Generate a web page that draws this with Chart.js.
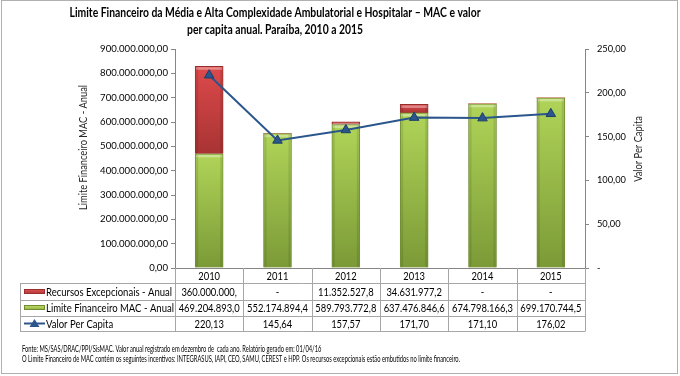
<!DOCTYPE html>
<html><head><meta charset="utf-8">
<script src="https://cdn.jsdelivr.net/npm/chart.js@4"></script>
<style>html,body{margin:0;padding:0;background:#fff}#wrap{width:680px;height:376px;position:relative}</style>
</head><body><div id="wrap"><canvas id="c" width="680" height="376"></canvas></div>
<script>
const categories = ['2010','2011','2012','2013','2014','2015'];
const recursosExcepcionais = [360000000, 0, 11352527.8, 34631977.2, 0, 0];
const limiteFinanceiro = [469204893.0, 552174894.4, 589793772.8, 637476846.6, 674798166.3, 699170744.5];
const valorPerCapita = [220.13, 145.64, 157.57, 171.70, 171.10, 176.02];
const recursosLabels = ['360.000.000,', '-', '11.352.527,8', '34.631.977,2', '-', '-'];
const limiteLabels = ['469.204.893,0','552.174.894,4','589.793.772,8','637.476.846,6','674.798.166,3','699.170.744,5'];
const perCapitaLabels = ['220,13','145,64','157,57','171,70','171,10','176,02'];
const seriesNames = ['Recursos Excepcionais - Anual','Limite Financeiro MAC - Anual','Valor Per Capita'];
const titleLines = ['Limite Financeiro da Média e Alta Complexidade Ambulatorial e Hospitalar – MAC e valor','per capita anual. Paraíba, 2010 a 2015'];
const footnotes = ['Fonte: MS/SAS/DRAC/PPI/SisMAC. Valor anual registrado em dezembro de  cada ano. Relatório gerado em: 01/04/16',
  'O Limite Financeiro de MAC contém os seguintes incentivos: INTEGRASUS, IAPI, CEO, SAMU, CEREST e HPP. Os recursos excepcionais estão embutidos no limite financeiro.'];
const yAxisTitle = 'Limite Financeiro MAC - Anual';
const y1AxisTitle = 'Valor Per Capita';

const FAM = 'Lato, "Open Sans", sans-serif';
const mctx = document.createElement('canvas').getContext('2d');
function fit(text, target, weight){ mctx.font = weight + ' 20px ' + FAM; return 20 * target / mctx.measureText(text).width; }
function squeeze(text, size, weight, target){ mctx.font = weight + ' ' + size + 'px ' + FAM; return Math.min(1, target / mctx.measureText(text).width); }
function fmtBR(v, dec){ const s = Number(v).toFixed(dec); let [i,d] = s.split('.'); i = i.replace(/\B(?=(\d{3})+(?!\d))/g,'.'); return d ? i + ',' + d : i; }

const TITLE = { size: 13.5, w: 'bold' };  TITLE.sx = squeeze(titleLines[0], TITLE.size, TITLE.w, 411);
const TAB = { size: 11, w: 'normal' };    TAB.sx = squeeze(seriesNames[0], TAB.size, TAB.w, 126);
const VAL = { size: 11, w: 'normal' };    VAL.sx = squeeze(limiteLabels[0], VAL.size, VAL.w, 61);
const FOOT = { size: 8.5, w: 'normal' };  FOOT.sx = squeeze(footnotes[1], FOOT.size, FOOT.w, 438);
const AXT = { size: 11, w: 'normal' };    AXT.sx = squeeze(yAxisTitle, AXT.size, AXT.w, 125);
const tickSize = fit('900.000.000,00', 68, 'normal');
const tickSize1 = fit('250,00', 29, 'normal');

function drawText(c, text, x, y, st, align){
  c.save();
  c.font = st.w + ' ' + st.size + 'px ' + FAM;
  c.translate(x, y); c.scale(st.sx, 1);
  c.textAlign = align; c.textBaseline = 'middle';
  c.fillText(text, 0, 0);
  c.restore();
}

function segBounds(di, i){
  if (di === 1) return [0, limiteFinanceiro[i]];
  return [limiteFinanceiro[i], limiteFinanceiro[i] + recursosExcepcionais[i]];
}
function barFill(di, top, bottom){
  return function(ctx){
    const ch = ctx.chart; const ys = ch.scales && ch.scales.y;
    if (!ys || ctx.dataIndex === undefined) return top;
    const [b, t] = segBounds(di, ctx.dataIndex);
    const y0 = ys.getPixelForValue(t), y1 = ys.getPixelForValue(b);
    if (!isFinite(y0) || !isFinite(y1) || y1 - y0 < 1) return top;
    const g = ch.ctx.createLinearGradient(0, y0, 0, y1);
    g.addColorStop(0, top); g.addColorStop(1, bottom);
    return g;
  };
}

const custom = {
  id: 'custom',
  afterDatasetDraw(chart, args){
    if (args.index === 0) return;
    const c = chart.ctx; const di = args.index;
    const vals = chart.data.datasets[di].data;
    chart.getDatasetMeta(di).data.forEach((b, i) => {
      if (!vals[i]) return;
      const p = b.getProps(['x','y','base','width'], true);
      const l = p.x - p.width/2, h = p.base - p.y;
      c.save();
      c.fillStyle = 'rgba(255,255,255,0.35)';
      c.fillRect(l+1, p.y+1, p.width-2, Math.max(0, Math.min(2.5, h-1)));
      c.fillStyle = 'rgba(0,0,0,0.10)';
      if (h > 3) { c.fillRect(l+1, p.y+1, 2, h-2); c.fillRect(l+p.width-3, p.y+1, 2, h-2); }
      c.restore();
    });
  },
  afterDraw(chart){
    const c = chart.ctx; const xs = chart.scales.x; const a = chart.chartArea;
    c.save();
    c.fillStyle = '#000';
    drawText(c, titleLines[0], 275, 13, TITLE, 'center');
    drawText(c, titleLines[1], 275, 30, TITLE, 'center');
    // axis titles
    c.fillStyle = '#262626';
    c.save(); c.translate(83, 147.5); c.rotate(-Math.PI/2); drawText(c, yAxisTitle, 0, 0, AXT, 'center'); c.restore();
    c.save(); c.translate(638, 149); c.rotate(-Math.PI/2); drawText(c, y1AxisTitle, 0, 0, AXT, 'center'); c.restore();
    // table
    const n = categories.length, cw = (a.right - a.left) / n;
    const rows = [a.bottom, 283, 300, 316, 331];
    const tl = 20;
    c.strokeStyle = '#a6a6a6'; c.lineWidth = 1;
    c.beginPath();
    for (let i = 0; i <= n; i++) { const x = Math.round(a.left + i*cw) + 0.5; c.moveTo(x, a.bottom); c.lineTo(x, rows[4]); }
    for (let r = 1; r < rows.length; r++) { c.moveTo(tl, rows[r] + 0.5); c.lineTo(a.right + 0.5, rows[r] + 0.5); }
    c.moveTo(tl + 0.5, rows[1]); c.lineTo(tl + 0.5, rows[4]);
    c.stroke();
    c.fillStyle = '#000';
    const rc = [(rows[0]+rows[1])/2 + 0.5, (rows[1]+rows[2])/2 + 0.5, (rows[2]+rows[3])/2 + 0.5, (rows[3]+rows[4])/2 + 0.5];
    const rowsTxt = [recursosLabels, limiteLabels, perCapitaLabels];
    for (let i = 0; i < n; i++) {
      const cx = xs.getPixelForValue(i);
      drawText(c, categories[i], cx, rc[0], VAL, 'center');
      for (let r = 0; r < 3; r++) drawText(c, rowsTxt[r][i], cx, rc[r+1], VAL, 'center');
    }
    for (let r = 0; r < 3; r++) drawText(c, seriesNames[r], 46, rc[r+1], TAB, 'left');
    // keys
    let g = c.createLinearGradient(0, 289, 0, 294); g.addColorStop(0, '#e05555'); g.addColorStop(1, '#b03636');
    c.fillStyle = g; c.fillRect(24, 289, 21, 5); c.strokeStyle = '#9c2e2e'; c.strokeRect(24.5, 289.5, 20, 4);
    g = c.createLinearGradient(0, 305, 0, 310); g.addColorStop(0, '#c4e06a'); g.addColorStop(1, '#8fb040');
    c.fillStyle = g; c.fillRect(24, 305, 21, 5); c.strokeStyle = '#6f8c32'; c.strokeRect(24.5, 305.5, 20, 4);
    c.strokeStyle = '#2a568c'; c.lineWidth = 2; c.beginPath(); c.moveTo(24, 323.5); c.lineTo(45, 323.5); c.stroke();
    c.fillStyle = '#2a568c'; c.beginPath(); c.moveTo(34.5, 319); c.lineTo(39.5, 327); c.lineTo(29.5, 327); c.closePath(); c.fill();
    // footnotes
    c.fillStyle = '#000';
    drawText(c, footnotes[0], 22, 349, FOOT, 'left');
    drawText(c, footnotes[1], 22, 359.5, FOOT, 'left');
    // frame
    c.strokeStyle = '#b0b0b0'; c.lineWidth = 1;
    c.strokeRect(1.5, 0.5, 676, 373);
    c.restore();
  }
};

new Chart(document.getElementById('c'), {
  data: {
    labels: categories,
    datasets: [
      { type: 'line', label: seriesNames[2], data: valorPerCapita, yAxisID: 'y1', order: 0,
        borderColor: '#2a568c', borderWidth: 2, tension: 0,
        pointStyle: 'triangle', pointRadius: 5.5, pointBackgroundColor: '#2a568c', pointBorderColor: '#1d3f6a', pointBorderWidth: 1 },
      { type: 'bar', label: seriesNames[1], data: limiteFinanceiro, yAxisID: 'y', stack: 's', order: 1,
        backgroundColor: barFill(1, '#b0d458', '#7b9a37'), borderColor: '#6f8c32',
        borderWidth: 1, barThickness: 28 },
      { type: 'bar', label: seriesNames[0], data: recursosExcepcionais, yAxisID: 'y', stack: 's', order: 1,
        backgroundColor: barFill(2, '#de4a4c', '#a83333'), borderColor: '#962c2c',
        borderWidth: ctx => (ctx.raw ? 1 : 0), barThickness: 28 }
    ]
  },
  options: {
    responsive: false, animation: false,
    layout: { padding: { top: 49, left: 0, right: 0, bottom: 0 } },
    plugins: { legend: { display: false }, title: { display: false }, tooltip: { enabled: false } },
    scales: {
      x: { stacked: true, grid: { display: false }, ticks: { display: false },
           border: { display: true, color: '#868686' }, afterFit: s => { s.height = 108; } },
      y: { stacked: true, position: 'left', min: 0, max: 900000000,
           ticks: { stepSize: 100000000, padding: 3, color: '#000', font: { family: FAM, size: tickSize }, callback: v => fmtBR(v, 2) },
           grid: { drawOnChartArea: false, drawTicks: true, tickLength: 4, color: '#868686' },
           border: { color: '#868686' }, afterFit: s => { s.width = 175; } },
      y1: { position: 'right', min: 0, max: 250,
           ticks: { stepSize: 50, padding: 8, color: '#000', font: { family: FAM, size: tickSize1 }, callback: v => (v === 0 ? '-' : fmtBR(v, 2)) },
           grid: { drawOnChartArea: false, drawTicks: true, tickLength: 4, color: '#868686' },
           border: { color: '#868686' }, afterFit: s => { s.width = 95; } }
    }
  },
  plugins: [custom]
});
</script></body></html>
